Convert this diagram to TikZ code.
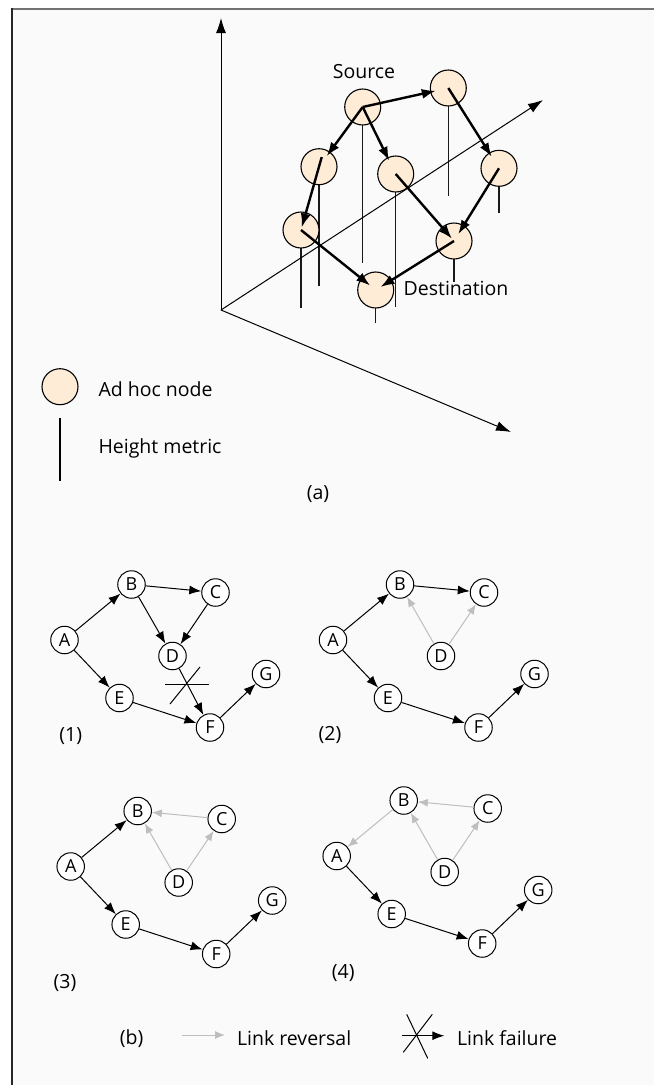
\documentclass[tikz,border=0pt]{standalone}
\usepackage{fontspec}
\setmainfont{Open Sans}
\usetikzlibrary{arrows.meta}
\definecolor{peach}{RGB}{254,236,214}
\definecolor{paper}{RGB}{250,250,250}
\definecolor{revgray}{RGB}{190,190,190}
\pgfdeclarelayer{background}
\pgfsetlayers{background,main}

\begin{document}
\begin{tikzpicture}[x=1pt,y=-1pt,
	adhoc/.style={circle,draw=black,fill=peach,minimum size=36pt,inner sep=0pt,line width=1.1pt},
	hop/.style={line width=2.4pt,-{Latex[length=14pt,width=10pt]}},
	stem/.style={line width=1.5pt,draw=black!90},
	axis/.style={line width=1pt,-{Latex[length=15pt,width=10pt]}},
	vertex/.style={circle,draw=black,fill=white,minimum size=27.5pt,inner sep=0pt,line width=1pt,font=\fontsize{18}{18}\selectfont},
	link/.style={line width=1pt,-{Latex[length=12pt,width=9pt]}},
	rev/.style={line width=1pt,draw=revgray,-{Latex[length=10pt,width=8pt]}},
	lbl/.style={font=\fontsize{19.5}{22}\selectfont}]
				% page and frame
				\useasboundingbox (0,0) rectangle (654,1085);
				\begin{pgfonlayer}{background}
					\fill[white] (0,0) rectangle (654,1085);
					\fill[paper] (11,8) rectangle (654,1085);
				\end{pgfonlayer}
				\draw[line width=1.6pt,black!55] (11,8.8) -- (654,8.8);
				\draw[line width=1.6pt,black!85] (11.7,8) -- (11.7,1085);
				
				% (a) axes
				\coordinate (o) at (221,310);
				\coordinate (zt) at (221,18);
				\coordinate (yt) at (543,100);
				\coordinate (xt) at (511,432);
				\draw[axis] (o) -- (zt);
				\draw[axis] (o) -- (yt);
				\draw[axis] (o) -- (xt);
				
				% (a) nodes with their height metric
				\foreach \n/\x/\y/\h in {n1/362.7/107/156,%source
						n2/448.3/88/108,%
						n3/319/166.7/119,%
						n4/395.7/174/133,%
						n5/499/168.3/45,%
						n6/301/230/78,%
						n7/454/241/41,%
						n8/375.7/290/33}{%destination
					\node[adhoc] (\n) at (\x,\y) {};
					\begin{pgfonlayer}{background}
						\draw[stem] (\n.center) -- ++(0,\h);
					\end{pgfonlayer}
				}
				
				\draw[hop,shorten >=12.8pt] (n1.center) -- (n2.center);
				\draw[hop,shorten >=13.6pt] (n2.center) -- (n5.center);
				\draw[hop,shorten >=13pt] (n1.center) -- (n3.center);
				\draw[hop,shorten >=14.7pt] (n1.center) -- (n4.center);
				\draw[hop,shorten <=-10pt,shorten >=2.7pt] (n3.center) -- (n6.center);
				\draw[hop,shorten >=3pt] (n4.center) -- (n7.center);
				\draw[hop,shorten >=8pt] (n5.center) -- (n7.center);
				\draw[hop,shorten >=7pt] (n6.center) -- (n8.center);
				\draw[hop,shorten >=5.6pt] (n7.center) -- (n8.center);
				
				\node[lbl] (src) at (364,72) {Source};
				\node[lbl] (dst) at (456,288) {Destination};
				
				% (a) key
				\node[adhoc] (key) at (60,386.7) {};
				\node[lbl,anchor=west] (keytxt) at (95,389) {Ad hoc node};
				\coordinate (m0) at (60,418);
				\coordinate (m1) at (60,481);
				\draw[line width=1.3pt] (m0) -- (m1);
				\node[lbl,anchor=west] (mtxt) at (95,448) {Height metric};
				\node[lbl] (capa) at (318,494) {(a)};
				
				% (b) the four steps
				\foreach \g/\gx/\gy in {1/64.5/640,2/333/640,3/70.7/866.5,4/336.7/856}{
					\begin{scope}[shift={(\gx,\gy)}]
						\node[vertex] (a\g) at (0,0) {A};
						\node[vertex] (b\g) at (67,-55.5) {B};
						\node[vertex] (c\g) at (151,-47.5) {C};
						\node[vertex] (d\g) at (108,16) {D};
						\node[vertex] (e\g) at (55,58) {E};
						\node[vertex] (f\g) at (145.5,87.5) {F};
						\node[vertex] (g\g) at (201.5,34) {G};
					\end{scope}
				}
				
				% (1)
				\draw[link] (a1) -- (b1);
				\draw[link] (a1) -- (e1);
				\draw[link] (b1) -- (c1);
				\draw[link] (b1) -- (d1);
				\draw[link] (c1) -- (d1);
				\draw[link] (d1) -- (f1);
				\draw[link] (e1) -- (f1);
				\draw[link] (f1) -- (g1);
				\coordinate (cut) at (187,684);
				\draw[line width=1pt] (cut) ++(-22,0) -- ++(44,0);
				\draw[line width=1pt] (cut) ++(-17,20) -- ++(30,-37);
				% (2)
				\draw[link] (a2) -- (b2);
				\draw[link] (a2) -- (e2);
				\draw[link] (b2) -- (c2);
				\draw[rev] (d2) -- (b2);
				\draw[rev] (d2) -- (c2);
				\draw[link] (e2) -- (f2);
				\draw[link] (f2) -- (g2);
				% (3)
				\draw[link] (a3) -- (b3);
				\draw[link] (a3) -- (e3);
				\draw[rev] (c3) -- (b3);
				\draw[rev] (d3) -- (b3);
				\draw[rev] (d3) -- (c3);
				\draw[link] (e3) -- (f3);
				\draw[link] (f3) -- (g3);
				% (4)
				\draw[rev] (b4) -- (a4);
				\draw[rev] (c4) -- (b4);
				\draw[rev] (d4) -- (b4);
				\draw[rev] (d4) -- (c4);
				\draw[link] (a4) -- (e4);
				\draw[link] (e4) -- (f4);
				\draw[link] (f4) -- (g4);
				
				\node[lbl] (s1) at (70.7,736) {(1)};
				\node[lbl] (s2) at (330,735) {(2)};
				\node[lbl] (s3) at (65,982.7) {(3)};
				\node[lbl] (s4) at (343.3,972.7) {(4)};
				
				% (b) key
				\node[lbl] (capb) at (131.7,1038.3) {(b)};
				\coordinate (r0) at (181.7,1035);
				\coordinate (r1) at (225,1035);
				\draw[rev] (r0) -- (r1);
				\node[lbl,anchor=west] (rtxt) at (233.5,1038) {Link reversal};
				\coordinate (k0) at (401.7,1035.7);
				\coordinate (k1) at (444.3,1035.7);
				\draw[link] (k0) -- (k1);
				\draw[line width=1pt] (406.7,1014.3) -- (427.7,1058.3);
				\draw[line width=1pt] (432.3,1014.3) -- (403.3,1052.3);
				\node[lbl,anchor=west] (ktxt) at (453.5,1038) {Link failure};
			\end{tikzpicture}
\end{document}
